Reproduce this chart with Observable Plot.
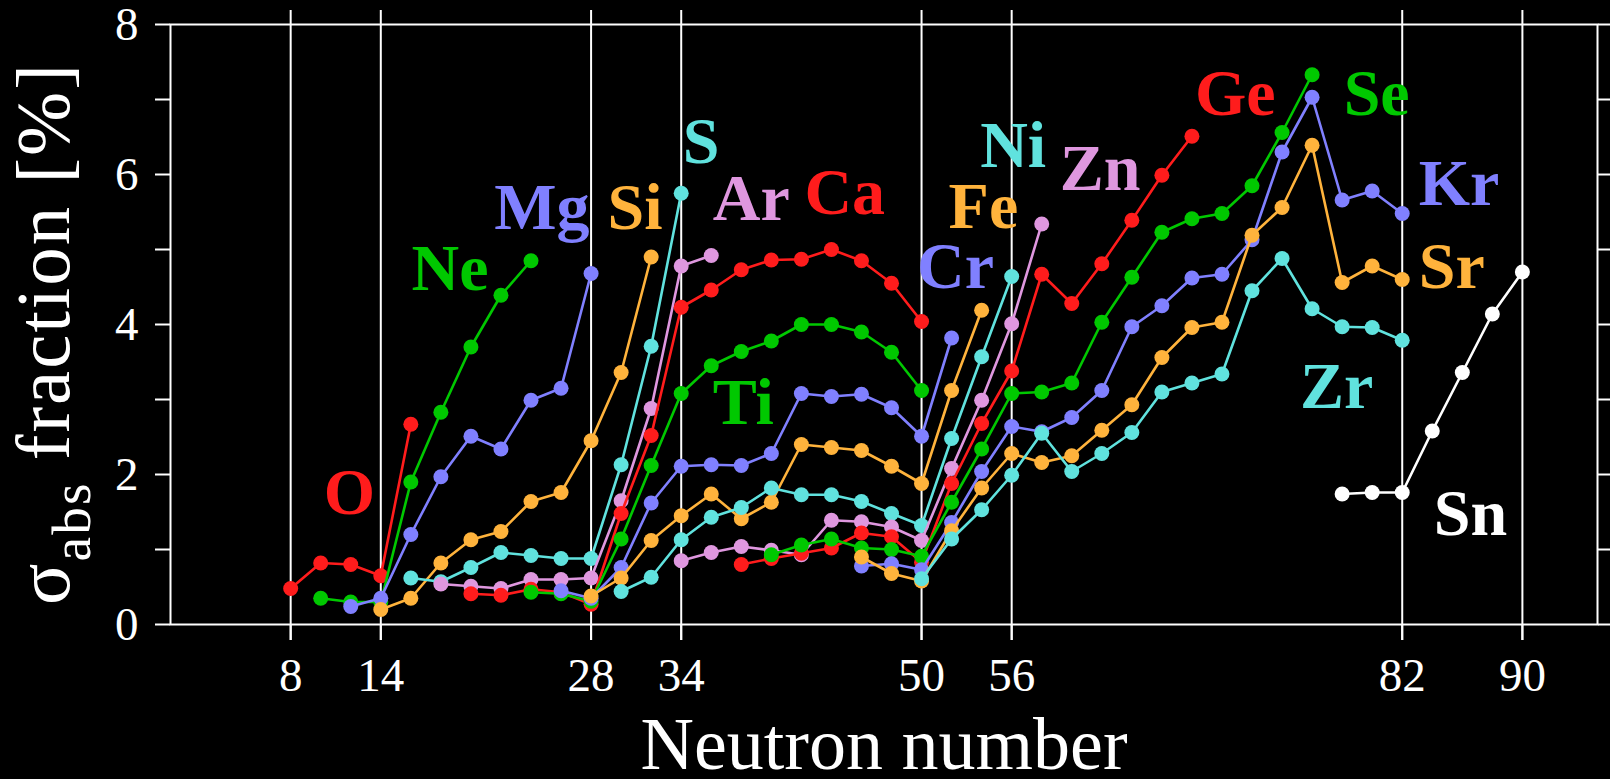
<!DOCTYPE html>
<html>
<head>
<meta charset="utf-8">
<script src="https://cdn.jsdelivr.net/npm/d3@7"></script>
<script src="https://cdn.jsdelivr.net/npm/@observablehq/plot@0.6"></script>
<style>
  html, body { margin: 0; padding: 0; background: #000; }
  #chart svg { display: block; }
</style>
</head>
<body>
<div id="chart"></div>
<script>
// Isotope chains: each element lists its absorption fraction (%) for even
// neutron numbers, starting at firstN and stepping by 2.
const elements = ["O","Ne","Mg","Si","S","Ar","Ca","Ti","Cr","Fe","Ni","Zn","Ge","Se","Kr","Sr","Zr","Sn"];
const firstN   = [8, 10, 12, 14, 16, 18, 20, 24, 26, 28, 30, 34, 38, 40, 46, 46, 50, 78];

const O  = [0.48, 0.82, 0.80, 0.65, 2.67];
const Ne = [0.35, 0.30, 0.30, 1.90, 2.83, 3.70, 4.39, 4.85];
const Mg = [0.24, 0.35, 1.20, 1.97, 2.51, 2.34, 2.99, 3.15, 4.68];
const Si = [0.20, 0.35, 0.82, 1.13, 1.24, 1.64, 1.76, 2.45, 3.36, 4.90];
const S  = [0.62, 0.57, 0.76, 0.96, 0.92, 0.88, 0.88, 2.13, 3.71, 5.75];
const Ar = [0.54, 0.51, 0.48, 0.60, 0.60, 0.62, 1.65, 2.88, 4.78, 4.92];
const Ca = [0.41, 0.39, 0.47, 0.43, 0.27, 1.48, 2.52, 4.23, 4.46, 4.73, 4.86, 4.87, 5.00, 4.85, 4.55, 4.04];
const Ti = [0.43, 0.41, 0.31, 1.14, 2.12, 3.08, 3.45, 3.64, 3.78, 4.00, 4.00, 3.90, 3.63, 3.12];
const Cr = [0.45, 0.35, 0.76, 1.62, 2.11, 2.13, 2.12, 2.28, 3.08, 3.04, 3.07, 2.89, 2.51, 3.82];
const Fe = [0.38, 0.62, 1.12, 1.45, 1.74, 1.41, 1.63, 2.40, 2.36, 2.32, 2.11, 1.88, 3.12, 4.19];
const Ni = [0.44, 0.63, 1.13, 1.43, 1.56, 1.82, 1.73, 1.73, 1.64, 1.48, 1.32, 2.48, 3.57, 4.64];
const Zn = [0.85, 0.96, 1.04, 0.99, 0.93, 1.39, 1.37, 1.30, 1.12, 2.08, 2.99, 4.01, 5.34];
const Ge = [0.80, 0.88, 0.95, 1.02, 1.22, 1.17, 0.83, 1.88, 2.68, 3.38, 4.67, 4.28, 4.81, 5.39, 5.99, 6.51];
const Se = [0.93, 1.06, 1.14, 1.02, 1.00, 0.91, 1.63, 2.34, 3.08, 3.10, 3.22, 4.03, 4.63, 5.23, 5.41, 5.48, 5.85, 6.56, 7.33];
const Kr = [0.78, 0.81, 0.73, 1.36, 2.04, 2.64, 2.57, 2.76, 3.12, 3.97, 4.25, 4.62, 4.67, 5.13, 6.30, 7.03, 5.66, 5.78, 5.48];
const Sr = [0.90, 0.68, 0.58, 1.25, 1.82, 2.28, 2.16, 2.25, 2.59, 2.93, 3.56, 3.96, 4.03, 5.19, 5.56, 6.39, 4.56, 4.78, 4.60];
const Zr = [0.61, 1.14, 1.53, 1.99, 2.55, 2.04, 2.28, 2.56, 3.10, 3.22, 3.34, 4.45, 4.88, 4.21, 3.97, 3.96, 3.79];
const Sn = [1.74, 1.76, 1.76, 2.58, 3.36, 4.14, 4.70];

const series = [O, Ne, Mg, Si, S, Ar, Ca, Ti, Cr, Fe, Ni, Zn, Ge, Se, Kr, Sr, Zr, Sn];

// Magic neutron numbers marked by vertical lines and labelled on the x axis
const magicN = [8, 14, 28, 34, 50, 56, 82, 90];
const yTicks = [0, 1, 2, 3, 4, 5, 6, 7, 8];

// Name tag anchors (neutron number, fraction) for each element
const tagN = [10.2, 16.05, 21.55, 29.1, 34.1, 36.1, 42.2, 36.1, 49.7, 51.8, 53.9, 59.2, 68.2, 78.1, 83.1, 83.1, 75.2, 84.1];
const tagV = [1.47, 4.46, 5.28, 5.28, 6.16, 5.39, 5.48, 2.68, 4.49, 5.29, 6.10, 5.80, 6.79, 6.79, 5.59, 4.49, 2.89, 1.19];

// Colours cycle through six hues; tin is drawn in white
const palette = ["#ff1c1c", "#00c800", "#8080ff", "#ffb33c", "#60e2de", "#df97df", "#ffffff"];
const colorOf = [0, 1, 2, 3, 4, 5, 0, 1, 2, 3, 4, 5, 0, 1, 2, 3, 4, 6].map(k => palette[k]);

const serif = "'Liberation Serif', 'Times New Roman', serif";

// One line + dot pair per element so later chains sit on top of earlier ones
const chainMarks = elements.flatMap((el, i) => {
  const pts = series[i].map((v, j) => ({N: firstN[i] + 2 * j, v}));
  return [
    Plot.line(pts, {x: "N", y: "v", stroke: colorOf[i], strokeWidth: 2.6}),
    Plot.dot(pts, {x: "N", y: "v", fill: colorOf[i], r: 7.5, stroke: "none"})
  ];
});

const svg = Plot.plot({
  width: 1610,
  height: 779,
  marginLeft: 170,
  marginRight: 13,
  marginTop: 24,
  marginBottom: 155,
  style: {background: "#000", color: "#fff", fontFamily: serif, fontSize: "46px"},
  x: {domain: [0, 95], label: null},
  y: {domain: [0, 8], label: null},
  color: {type: "identity"},
  marks: [
    Plot.ruleX(magicN, {stroke: "#fff", strokeWidth: 2, insetTop: -14, insetBottom: -16}),
    Plot.frame({stroke: "#fff", strokeWidth: 2}),
    Plot.axisX({ticks: magicN, tickSize: 16, tickPadding: 17, strokeWidth: 2,
                fontSize: 47, fontFamily: serif, fill: "#fff", label: null}),
    Plot.axisY({ticks: yTicks, tickSize: 15, tickPadding: 17, strokeWidth: 2,
                fontSize: 47, fontFamily: serif, fill: "#fff",
                tickFormat: d => (d % 2 ? "" : String(d)), label: null}),
    Plot.axisY({anchor: "right", ticks: yTicks, tickSize: 13, strokeWidth: 2,
                tickFormat: () => "", label: null}),
    ...chainMarks,
    Plot.text(elements, {
      x: (d, i) => tagN[i], y: (d, i) => tagV[i], text: d => d,
      fill: (d, i) => colorOf[i], fontSize: 66, fontWeight: "bold", fontFamily: serif,
      textAnchor: "start", lineAnchor: "bottom"
    }),
    Plot.text(["Neutron number"], {
      frameAnchor: "bottom", dy: 144, lineAnchor: "bottom", fontSize: 74, fill: "#fff", fontFamily: serif
    }),
    Plot.text(["σ fraction [%]"], {
      frameAnchor: "left", rotate: -90, dx: -126, dy: 9, lineAnchor: "middle", textAnchor: "middle",
      fontSize: 77, fill: "#fff", fontFamily: serif, className: "ylabel"
    })
  ]
});

// Rebuild the y label with a subscripted "abs" after the sigma
const yl = d3.select(svg).select(".ylabel text");
yl.text(null).attr("letter-spacing", "2");
yl.append("tspan").text("σ");
yl.append("tspan").attr("font-size", "0.72em").attr("dy", "21").text("abs");
yl.append("tspan").attr("dy", "-21").text("\u00a0fraction [%]");

document.getElementById("chart").appendChild(svg);
</script>
</body>
</html>
